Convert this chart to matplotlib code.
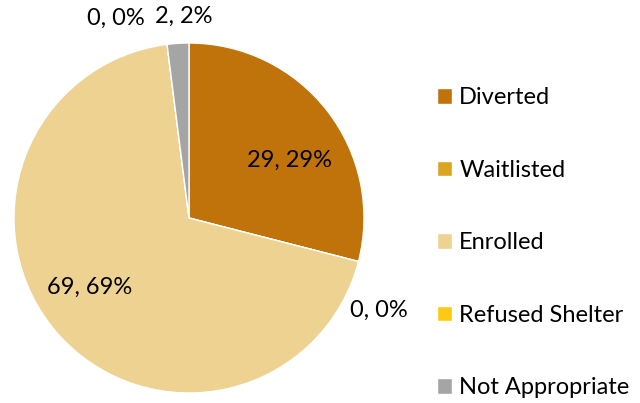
import matplotlib
matplotlib.use("Agg")
import matplotlib.pyplot as plt
import numpy as np

categories = ["Diverted", "Waitlisted", "Enrolled", "Refused Shelter", "Not Appropriate"]
values = [29, 0, 69, 0, 2]
percents = [29, 0, 69, 0, 2]
colors = ["#C0730B", "#DAA521", "#EDD292", "#FDC912", "#A5A5A5"]

plt.rcParams['font.family'] = ['Lato', 'DejaVu Sans']

W, H = 640, 403
fig = plt.figure(figsize=(W / 100, H / 100), dpi=100)
R = 175
cx, cy = 189, 218
ax = fig.add_axes([(cx - R) / W, (H - cy - R) / H, 2 * R / W, 2 * R / H])

wedges, _ = ax.pie(values, colors=colors, startangle=90, counterclock=False,
                   radius=1.0, wedgeprops=dict(edgecolor="white", linewidth=1.0))
ax.set_xlim(-1, 1)
ax.set_ylim(-1, 1)
ax.set_aspect("equal")
ax.axis("off")

FS = 17
# label placement (polar: angle deg, radius fraction)
label_pos = [(30, 0.66), (-26, 1.21), (215, 0.69), (110.2, 1.215), (91.4, 1.15)]
for (ang, r), v, p in zip(label_pos, values, percents):
    a = np.deg2rad(ang)
    ax.text(r * np.cos(a), r * np.sin(a), f"{v}, {p}%", ha="center", va="center",
            fontsize=FS, color="#000000", clip_on=False)

leg = fig.legend(wedges, categories, loc="upper left",
                 bbox_to_anchor=(428 / W, 1 - 78 / H), frameon=False,
                 fontsize=FS, labelspacing=2.18, handlelength=0.62,
                 handleheight=0.62, handletextpad=0.3, borderaxespad=0)

fig.savefig("out.png", dpi=100)
